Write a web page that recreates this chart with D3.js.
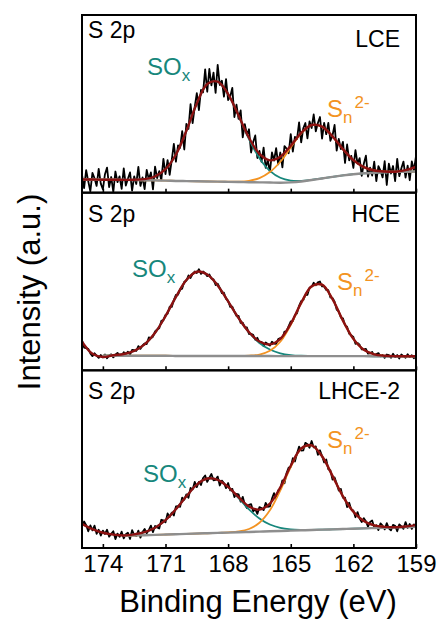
<!DOCTYPE html>
<html>
<head>
<meta charset="utf-8">
<script src="https://cdn.jsdelivr.net/npm/d3@7"></script>
<style>
  body { margin: 0; background: #fff; }
  svg { display: block; font-family: Arial, "Liberation Sans", sans-serif; }
</style>
</head>
<body>
<svg id="grafico"></svg>
<script>
"use strict"

// amostras e eixo
const amostras = ['LCE', 'HCE', 'LHCE-2'];
const ticksEnergia = [174, 171, 168, 165, 162, 159];

// grade dos ajustes (eV)
const energiaFit = [175, 174.5, 174, 173.5, 173, 172.5, 172, 171.5, 171, 170.5, 170, 169.5, 169,
  168.5, 168, 167.5, 167, 166.5, 166, 165.5, 165, 164.5, 164, 163.5, 163, 162.5, 162, 161.5, 161,
  160.5, 160, 159.5, 159];

// espectro medido: 175 -> 159 eV, passo 0.1 eV
const inicioBruto = 175;
const passoBruto = 0.1;

const brutoLCE = [
  10.0,2.6,12.7,6.4,0.8,11.1,8.1,3.8,13.4,5.1,
  1.9,10.4,14.1,3.1,8.8,0.4,11.9,5.9,9.2,2.1,
  13.7,4.0,7.8,11.4,1.2,9.2,4.9,14.5,3.8,8.6,
  2.0,12.8,7.5,11.4,1.8,14.7,8.2,12.1,7.0,19.0,
  10.5,18.3,10.0,18.5,27.5,17.4,26.6,25.3,34.6,24.3,
  38.7,35.9,49.8,39.1,48.3,56.0,46.5,57.8,56.5,69.4,
  56.8,69.6,60.4,67.6,56.2,71.9,60.6,63.0,54.0,63.9,
  52.1,54.1,59.0,42.6,49.5,41.5,46.3,31.1,38.6,32.6,
  35.7,22.6,28.5,32.2,19.5,23.5,17.4,25.4,13.9,18.5,
  11.6,22.6,18.1,25.1,15.9,22.6,14.2,26.2,24.8,22.2,
  33.0,23.1,31.4,30.2,39.6,28.3,36.2,39.2,30.6,40.1,
  36.4,44.0,34.5,39.2,42.6,30.4,39.3,32.9,39.3,29.2,
  32.2,38.1,23.7,30.3,24.5,28.6,16.7,27.1,18.2,20.7,
  13.9,23.9,16.4,19.4,9.5,16.3,20.8,9.0,14.1,9.6,
  17.4,6.5,14.9,12.4,8.6,17.7,4.3,16.3,10.8,15.0,
  6.5,19.0,9.3,13.7,17.5,8.5,15.2,7.0,17.6,12.6,
  20.6];
const brutoHCE = [
  17.0,12.8,12.5,12.1,9.5,8.0,9.6,8.3,7.0,8.6,
  7.3,8.9,6.8,8.4,9.0,7.3,8.8,9.8,8.3,8.1,
  10.2,9.2,10.5,8.9,11.5,11.3,11.0,13.6,12.1,14.0,
  15.1,14.8,18.5,18.1,18.9,21.9,23.0,23.7,27.8,28.3,
  31.2,31.9,35.8,35.7,39.5,42.5,42.6,45.4,46.0,49.8,
  50.4,53.4,52.0,54.2,55.6,54.8,56.9,54.3,55.6,54.7,
  53.0,54.0,51.6,51.2,48.0,48.8,46.4,43.5,43.7,40.2,
  39.2,35.7,35.9,33.1,30.6,30.7,26.7,26.8,24.2,24.1,
  20.4,20.5,20.0,17.2,18.3,15.8,16.0,13.7,15.7,14.8,
  13.9,16.1,15.1,14.9,17.6,18.1,17.9,21.8,21.9,24.9,
  27.5,27.7,31.0,32.1,36.3,39.0,39.5,42.3,42.5,46.5,
  47.0,49.3,47.9,49.5,50.0,47.2,47.2,45.2,45.1,41.0,
  40.7,38.6,34.2,33.1,29.7,29.3,25.4,24.5,20.6,19.7,
  18.8,14.9,15.4,14.4,11.8,11.8,12.1,9.4,9.5,10.4,
  8.0,9.2,9.7,7.9,8.6,7.0,8.9,8.6,7.1,9.3,
  7.5,8.6,6.7,8.9,8.0,7.1,9.1,7.5,8.5,6.8,
  8.3];
const brutoLHCE = [
  12.2,14.9,12.8,9.4,12.7,9.9,12.6,8.0,10.3,7.0,
  9.8,7.9,10.3,6.4,8.0,9.4,5.0,8.1,6.3,9.2,
  5.4,7.7,8.6,5.1,10.0,7.4,6.7,9.8,5.8,9.0,
  10.7,8.3,10.0,12.6,8.9,12.4,11.6,11.0,15.9,15.5,
  14.4,19.5,17.4,19.9,18.3,23.4,23.5,23.2,28.4,27.2,
  30.2,28.2,33.8,33.0,37.2,34.3,37.2,35.4,39.4,40.8,
  37.2,39.6,41.7,38.1,38.4,40.2,35.2,37.9,36.5,33.7,
  36.6,32.4,33.3,28.7,30.5,30.2,26.1,28.8,24.5,22.5,
  24.3,24.7,20.6,21.9,19.2,23.0,22.5,21.3,25.4,23.2,
  23.4,27.8,30.9,28.1,32.5,33.2,38.1,36.4,42.2,45.3,
  45.7,50.6,48.7,53.2,57.1,54.8,54.9,59.2,58.4,56.4,
  60.2,56.6,57.2,52.4,55.0,51.8,48.2,49.8,44.3,43.7,
  38.5,39.7,36.3,32.3,33.3,28.3,28.3,23.0,25.5,21.7,
  21.1,17.3,20.2,16.6,14.6,16.8,15.1,12.0,14.7,15.5,
  11.6,12.8,10.1,13.9,12.6,10.5,14.0,11.1,9.9,13.0,
  12.5,9.4,13.3,12.1,10.8,14.6,11.3,13.5,10.8,13.3,
  12.1];

// ajustes: envelope, componentes (com fundo) e fundo
const envLCE = [7.4,7.4,7.3,7.3,7.2,7.3,7.6,9.1,13.2,21.5,34.8,50.2,61.2,62.5,55.5,43.4,30.9,21.8,
  18.2,20.2,26.4,33.7,38.1,37.2,31.7,24.5,18.3,14.4,12.5,11.9,11.8,12.7,14.5];
const soxLCE = [7.4,7.4,7.3,7.3,7.2,7.25,7.6,9.1,13.2,21.5,34.8,50.2,61.2,62.5,55.4,43.2,30.1,19.4,
  12.3,8.4,6.8,6.6,7.2,8.0,8.9,9.7,10.4,10.9,11.2,11.5,11.7,11.8,11.9];
const snLCE = [7.4,7.4,7.3,7.3,7.2,7.1,7.0,6.9,6.8,6.6,6.5,6.4,6.3,6.2,6.15,6.2,6.7,8.2,
  11.6,17.4,25.4,33.4,38.0,37.2,31.7,24.5,18.3,14.4,12.5,11.9,11.8,11.8,11.9];
const fundoLCE = [7.4,7.4,7.3,7.3,7.2,7.1,7.0,6.9,6.8,6.6,6.5,6.4,6.3,6.2,6.1,6.0,5.9,5.8,
  5.7,5.6,5.8,6.3,7.1,8.0,8.9,9.7,10.4,10.9,11.2,11.5,11.7,11.8,11.9];

const envHCE = [16.2,9.3,7.5,8.5,9.2,11.0,14.6,21.1,30.5,41.3,50.8,55.5,53.9,47.8,38.8,29.4,21.5,16.2,
  14.6,17.7,26.2,38.0,47.3,48.2,40.1,28.0,17.7,11.6,9.0,8.2,7.95,7.9,7.9];
const soxHCE = [null,null,8.3,8.5,9.2,11.0,14.6,21.1,30.5,41.3,50.8,55.5,53.9,47.8,38.8,29.4,21.3,15.4,
  11.7,9.6,8.6,8.2,8.1,8.0,8.0,8.0,8.0,8.0,7.9,7.9,7.9,7.9,7.9];
const snHCE = [null,null,8.2,8.2,8.2,8.2,8.2,8.2,8.2,8.1,8.1,8.1,8.1,8.1,8.1,8.1,8.3,8.9,
  11.0,16.1,25.6,37.8,47.2,48.2,40.1,28.0,17.7,11.6,9.0,8.15,7.95,7.9,7.9];
const fundoHCE = [null,null,8.2,8.2,8.2,8.2,8.2,8.2,8.2,8.1,8.1,8.1,8.1,8.1,8.1,8.1,8.1,8.1,
  8.1,8.0,8.0,8.0,8.0,8.0,8.0,8.0,8.0,8.0,7.9,7.9,7.9,7.9,7.9];

const envLHCE = [13.6,10.6,8.6,7.5,7.05,7.7,8.9,11.4,15.7,21.9,29.1,35.7,39.1,38.4,34.4,28.6,23.4,21.6,
  25.0,34.1,46.3,56.0,57.8,51.6,40.6,29.1,20.4,15.2,12.7,11.9,11.7,12.1,12.9];
const soxLHCE = [null,null,null,null,7.05,7.66,8.9,11.4,15.7,21.9,29.1,35.7,39.1,38.4,34.3,28.1,21.7,16.6,
  13.2,11.3,10.45,10.2,10.2,10.34,10.5,10.68,10.86,11.05,11.23,11.41,11.59,11.78,11.96];
const snLHCE = [null,null,null,null,6.85,7.03,7.21,7.40,7.58,7.76,7.94,8.13,8.31,8.5,8.8,9.3,10.7,14.2,
  21.2,32.4,45.6,55.8,57.7,51.6,40.6,29.1,20.4,15.2,12.7,11.9,11.7,11.8,11.96];
const fundoLHCE = [null,null,null,null,6.85,7.03,7.21,7.40,7.58,7.76,7.94,8.13,8.31,8.49,8.67,8.86,9.04,9.22,
  9.40,9.59,9.77,9.95,10.13,10.32,10.50,10.68,10.86,11.05,11.23,11.41,11.59,11.78,11.96];

function iniciar(){
  const largura = 440;
  const altura = 623;
  const margem = { esquerda: 82, direita: 24, superior: 15, inferior: 75 };

  const svg = d3.select('#grafico').attr('width', largura).attr('height', altura);

  const larguraPlot = largura - margem.esquerda - margem.direita;
  const alturaPainel = (altura - margem.superior - margem.inferior) / 3;

  const x = d3.scaleLinear().domain([175, 159]).range([0, larguraPlot]);
  const y = d3.scaleLinear().domain([0, 100]).range([alturaPainel, 0]);

  const energiaBruta = brutoLCE.map((d, i) => +(inicioBruto - i * passoBruto).toFixed(1));

  const cores = { bruto: '#000', sox: '#17877c', sn: '#f39322', fundo: '#8e8e8e', env: '#8c1111' };
  const espessura = { sox: 1.8, sn: 1.8, fundo: 2.4, env: 2.4 };

  // posicoes dos rotulos (px dentro do painel)
  const rotulos = [
    { s2p: 23, amostra: 32, soxX: 65, soxY: 60, snX: 245, snY: 102 },
    { s2p: 29, amostra: 29, soxX: 50, soxY: 84, snX: 255, snY: 97 },
    { s2p: 29, amostra: 29, soxX: 61, soxY: 112, snX: 245, snY: 78 }
  ];

  const paineis = [
    { bruto: brutoLCE, env: envLCE, sox: soxLCE, sn: snLCE, fundo: fundoLCE },
    { bruto: brutoHCE, env: envHCE, sox: soxHCE, sn: snHCE, fundo: fundoHCE },
    { bruto: brutoLHCE, env: envLHCE, sox: soxLHCE, sn: snLHCE, fundo: fundoLHCE }
  ];

  const linha = d3.line()
                  .x(d => x(d[0]))
                  .y(d => y(d[1]));
  const linhaSuave = d3.line()
                       .defined(d => d[1] != null)
                       .curve(d3.curveCatmullRom)
                       .x(d => x(d[0]))
                       .y(d => y(d[1]));

  svg.append('defs').append('clipPath').attr('id', 'recorte')
     .append('rect').attr('width', larguraPlot).attr('height', alturaPainel);

  paineis.forEach((p, i) => {
    const g = svg.append('g')
                 .attr('transform', `translate(${margem.esquerda}, ${margem.superior + i * alturaPainel})`);
    const dentro = g.append('g').attr('clip-path', 'url(#recorte)');

    dentro.append('path')
      .datum(d3.zip(energiaBruta, p.bruto))
      .attr('d', linha)
      .attr('fill', 'none')
      .attr('stroke', cores.bruto)
      .attr('stroke-width', 1.8)
      .attr('stroke-linejoin', 'round');

    ['sox', 'sn', 'fundo', 'env'].forEach(k => {
      dentro.append('path')
        .datum(d3.zip(energiaFit, p[k]))
        .attr('d', linhaSuave)
        .attr('fill', 'none')
        .attr('stroke', cores[k])
        .attr('stroke-width', espessura[k]);
    });

    const eixo = d3.axisBottom(x)
                   .tickValues(ticksEnergia)
                   .tickSizeInner(-4)
                   .tickSizeOuter(0)
                   .tickPadding(7);
    const gEixo = g.append('g')
                   .attr('transform', `translate(0, ${alturaPainel})`)
                   .call(eixo);
    gEixo.select('.domain').remove();
    gEixo.selectAll('line').attr('stroke', '#000').attr('stroke-width', 1.6);
    gEixo.attr('font-family', null).attr('font-size', null);
    gEixo.selectAll('text').style('font-size', '24px').attr('fill', '#000');
    if (i < 2) gEixo.selectAll('text').remove();

    g.append('rect')
      .attr('width', larguraPlot)
      .attr('height', alturaPainel)
      .attr('fill', 'none')
      .attr('stroke', '#000')
      .attr('stroke-width', 2);

    const r = rotulos[i];
    g.append('text').attr('x', 6).attr('y', r.s2p)
      .style('font-size', '23px').text('S 2p');
    g.append('text').attr('x', larguraPlot - 16).attr('y', r.amostra)
      .attr('text-anchor', 'end').style('font-size', '23px').text(amostras[i]);

    const sox = g.append('text').attr('x', r.soxX).attr('y', r.soxY)
                 .attr('fill', cores.sox).style('font-size', '24px');
    sox.append('tspan').text('SO');
    sox.append('tspan').attr('dy', 6).style('font-size', '17px').text('x');

    const sn = g.append('text').attr('x', r.snX).attr('y', r.snY)
                .attr('fill', cores.sn).style('font-size', '24px');
    sn.append('tspan').text('S');
    sn.append('tspan').attr('dy', 6).style('font-size', '17px').text('n');
    sn.append('tspan').attr('dy', -15).attr('dx', 2).style('font-size', '17px').text('2-');
  });

  svg.append('text')
    .attr('transform', 'translate(40, 292) rotate(-90)')
    .attr('text-anchor', 'middle')
    .style('font-size', '31px')
    .text('Intensity (a.u.)');

  svg.append('text')
    .attr('x', 258)
    .attr('y', 612)
    .attr('text-anchor', 'middle')
    .style('font-size', '31px')
    .text('Binding Energy (eV)');
}

window.addEventListener('load', iniciar, false);
</script>
</body>
</html>
